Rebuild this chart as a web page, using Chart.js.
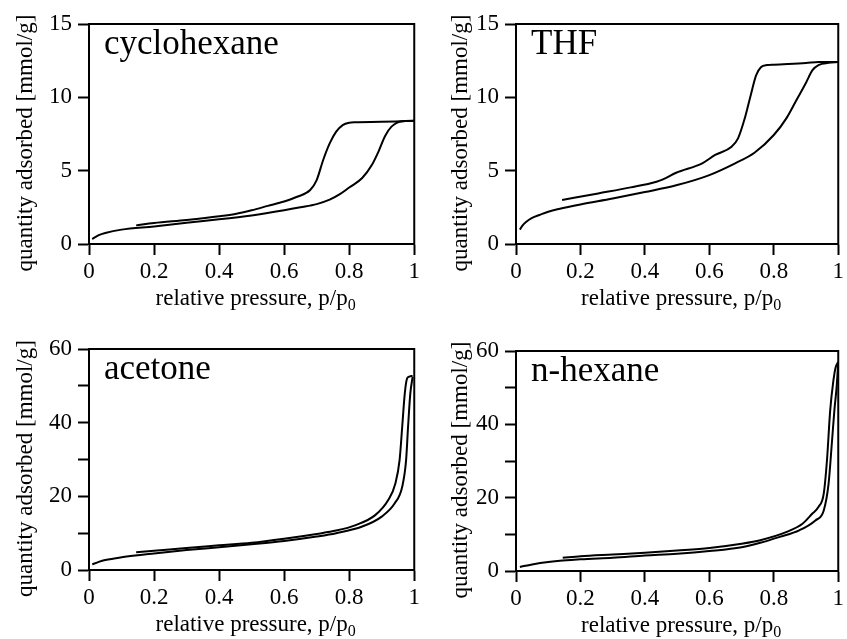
<!DOCTYPE html>
<html>
<head>
<meta charset="utf-8">
<script src="https://cdn.jsdelivr.net/npm/chart.js@4/dist/chart.umd.min.js"></script>
<style>
  body { margin: 0; background: #fff; }
  #wrap { position: relative; width: 847px; height: 639px; overflow: hidden; }
  #wrap canvas { position: absolute; }
</style>
</head>
<body>
<div id="wrap">
  <canvas id="c1" width="423" height="320" style="left:0;top:0"></canvas>
  <canvas id="c2" width="424" height="320" style="left:423px;top:0"></canvas>
  <canvas id="c3" width="423" height="319" style="left:0;top:320px"></canvas>
  <canvas id="c4" width="424" height="319" style="left:423px;top:320px"></canvas>
</div>
<script>
// cyclohexane
const cycloAdsP = [0.01, 0.03, 0.05, 0.1, 0.2, 0.3, 0.4, 0.5, 0.6, 0.65, 0.7, 0.74, 0.77, 0.8, 0.84, 0.87, 0.89, 0.91, 0.93, 0.96, 1.0];
const cycloAdsV = [0.34, 0.6, 0.75, 0.98, 1.2, 1.45, 1.68, 1.95, 2.3, 2.5, 2.72, 3.02, 3.38, 3.85, 4.5, 5.4, 6.3, 7.35, 8.0, 8.36, 8.4];
const cycloDesP = [0.145, 0.2, 0.3, 0.4, 0.45, 0.5, 0.55, 0.6, 0.64, 0.68, 0.7, 0.72, 0.74, 0.76, 0.78, 0.8, 0.82, 0.9, 0.97, 1.0];
const cycloDesV = [1.27, 1.43, 1.64, 1.89, 2.05, 2.3, 2.6, 2.9, 3.22, 3.68, 4.36, 5.73, 6.86, 7.66, 8.11, 8.27, 8.3, 8.33, 8.38, 8.4];

// THF
const thfAdsP = [0.012, 0.02, 0.032, 0.05, 0.073, 0.1, 0.133, 0.2, 0.3, 0.4, 0.5, 0.6, 0.68, 0.74, 0.8, 0.84, 0.87, 0.9, 0.92, 0.94, 0.97, 1.0];
const thfAdsV = [0.98, 1.25, 1.52, 1.78, 1.98, 2.2, 2.39, 2.7, 3.1, 3.54, 4.02, 4.7, 5.5, 6.22, 7.43, 8.6, 9.8, 11.0, 11.85, 12.22, 12.35, 12.41];
const thfDesP = [0.143, 0.255, 0.356, 0.436, 0.456, 0.497, 0.578, 0.618, 0.669, 0.689, 0.709, 0.729, 0.745, 0.76, 0.78, 0.8, 0.9, 0.94, 1.0];
const thfDesV = [3.0, 3.45, 3.86, 4.25, 4.41, 4.86, 5.5, 6.07, 6.63, 7.2, 8.5, 10.2, 11.5, 12.05, 12.2, 12.23, 12.34, 12.41, 12.41];

// acetone
const acetAdsP = [0.01, 0.03, 0.05, 0.1, 0.2, 0.3, 0.4, 0.5, 0.6, 0.7, 0.76, 0.84, 0.9, 0.94, 0.963, 0.975, 0.981, 0.988, 0.995];
const acetAdsV = [1.54, 2.2, 2.7, 3.45, 4.5, 5.4, 6.2, 7.0, 7.9, 9.1, 10.0, 11.8, 14.5, 18.1, 22.6, 29.9, 38.9, 48, 52.4];
const acetDesP = [0.145, 0.2, 0.3, 0.4, 0.5, 0.6, 0.7, 0.76, 0.82, 0.88, 0.92, 0.942, 0.955, 0.963, 0.971, 0.978, 0.985, 0.995];
const acetDesV = [4.8, 5.2, 6.0, 6.7, 7.4, 8.5, 9.8, 10.7, 12.2, 14.9, 19.0, 23.5, 29.9, 38.9, 48, 52.0, 52.5, 52.7];

// n-hexane
const hexAdsP = [0.012, 0.05, 0.1, 0.2, 0.3, 0.4, 0.5, 0.6, 0.7, 0.758, 0.818, 0.879, 0.929, 0.955, 0.97, 0.98, 0.988, 0.995, 1.0];
const hexAdsV = [1.1, 1.8, 2.45, 3.2, 3.6, 4.2, 4.7, 5.45, 6.5, 7.7, 9.3, 11.1, 13.8, 16.5, 23.8, 34.7, 43.8, 50.2, 57.0];
const hexDesP = [0.145, 0.2, 0.3, 0.4, 0.5, 0.6, 0.7, 0.758, 0.838, 0.889, 0.919, 0.939, 0.955, 0.965, 0.975, 0.985, 0.992, 1.0];
const hexDesV = [3.6, 4.0, 4.5, 5.0, 5.6, 6.3, 7.45, 8.4, 10.6, 12.9, 15.6, 17.5, 21.1, 30.2, 43.8, 52.0, 55.6, 57.0];

const xTitle = 'relative pressure, p/p';
const xTitleSub = '0';
const yTitle = 'quantity adsorbed [mmol/g]';

const SERIF = "'Liberation Serif', 'Times New Roman', serif";
Chart.defaults.font.family = SERIF;
Chart.defaults.color = '#000';

const toPoints = (xs, ys) => xs.map((x, i) => ({ x: x, y: ys[i] }));

// frame, in-plot label and axis titles (with subscript)
const panelText = {
  id: 'panelText',
  afterDraw(chart, args, o) {
    const ctx = chart.ctx;
    const a = chart.chartArea;
    ctx.save();
    ctx.strokeStyle = '#000';
    ctx.lineWidth = 2;
    ctx.strokeRect(a.left, a.top, a.right - a.left, a.bottom - a.top);

    ctx.fillStyle = '#000';
    ctx.textBaseline = 'alphabetic';
    ctx.textAlign = 'left';
    ctx.font = '35px ' + SERIF;
    ctx.fillText(o.name, a.left + 15, a.top + 30);

    // x title
    ctx.font = '23px ' + SERIF;
    const w1 = ctx.measureText(xTitle).width;
    ctx.font = '16px ' + SERIF;
    const w2 = ctx.measureText(xTitleSub).width;
    const cx = (a.left + a.right) / 2 + 4;
    const x0 = cx - (w1 + w2) / 2;
    const by = a.bottom + 61;
    ctx.font = '23px ' + SERIF;
    ctx.fillText(xTitle, x0, by);
    ctx.font = '16px ' + SERIF;
    ctx.fillText(xTitleSub, x0 + w1, by + 5);

    // y title
    ctx.font = '23px ' + SERIF;
    ctx.translate(a.left + o.yTitleX, (a.top + a.bottom) / 2 + 9);
    ctx.rotate(-Math.PI / 2);
    ctx.textAlign = 'center';
    ctx.fillText(yTitle, 0, 0);
    ctx.restore();
  }
};

function makePanel(id, name, ads, des, yMax, yStep, minor, box) {
  const lineStyle = {
    showLine: true,
    borderColor: '#000',
    borderWidth: 2,
    pointRadius: 0,
    fill: false,
    cubicInterpolationMode: 'monotone'
  };
  new Chart(document.getElementById(id), {
    type: 'scatter',
    data: {
      datasets: [
        Object.assign({ label: 'adsorption', data: toPoints(ads[0], ads[1]) }, lineStyle),
        Object.assign({ label: 'desorption', data: toPoints(des[0], des[1]) }, lineStyle)
      ]
    },
    options: {
      responsive: false,
      animation: false,
      layout: { autoPadding: false, padding: { left: 0, top: box.top, right: box.right, bottom: 0 } },
      plugins: {
        legend: { display: false },
        tooltip: { enabled: false },
        panelText: { name: name, yTitleX: box.yTitleX }
      },
      scales: {
        x: {
          type: 'linear',
          min: 0,
          max: 1,
          afterFit: s => { s.height = box.xh; },
          border: { display: true, color: '#000', width: 2 },
          grid: { drawOnChartArea: false, drawTicks: true, tickLength: 11, tickWidth: 2, tickColor: '#000' },
          ticks: {
            stepSize: 0.2,
            padding: 3,
            font: { size: 23 },
            color: '#000',
            maxRotation: 0,
            callback: v => String(Number(v.toFixed(1)))
          }
        },
        y: {
          type: 'linear',
          min: 0,
          max: yMax,
          afterFit: s => { s.width = box.left; },
          border: { display: true, color: '#000', width: 2 },
          grid: { drawOnChartArea: false, drawTicks: true, tickLength: 11, tickWidth: 2, tickColor: '#000' },
          ticks: {
            stepSize: yStep,
            padding: 6,
            font: { size: 23 },
            color: '#000',
            callback: v => (minor && v % 20 !== 0) ? '' : String(v)
          }
        }
      }
    },
    plugins: [panelText]
  });
}

makePanel('c1', 'cyclohexane', [cycloAdsP, cycloAdsV], [cycloDesP, cycloDesV], 15, 5, false,
  { left: 89, top: 24, right: 4, xh: 76, yTitleX: -57 });
makePanel('c2', 'THF', [thfAdsP, thfAdsV], [thfDesP, thfDesV], 15, 5, false,
  { left: 93, top: 24, right: 1, xh: 76, yTitleX: -49 });
makePanel('c3', 'acetone', [acetAdsP, acetAdsV], [acetDesP, acetDesV], 60, 10, true,
  { left: 89, top: 29, right: 4, xh: 69, yTitleX: -57 });
makePanel('c4', 'n-hexane', [hexAdsP, hexAdsV], [hexDesP, hexDesV], 60, 10, true,
  { left: 93, top: 31, right: 1, xh: 68, yTitleX: -49 });
</script>
</body>
</html>
